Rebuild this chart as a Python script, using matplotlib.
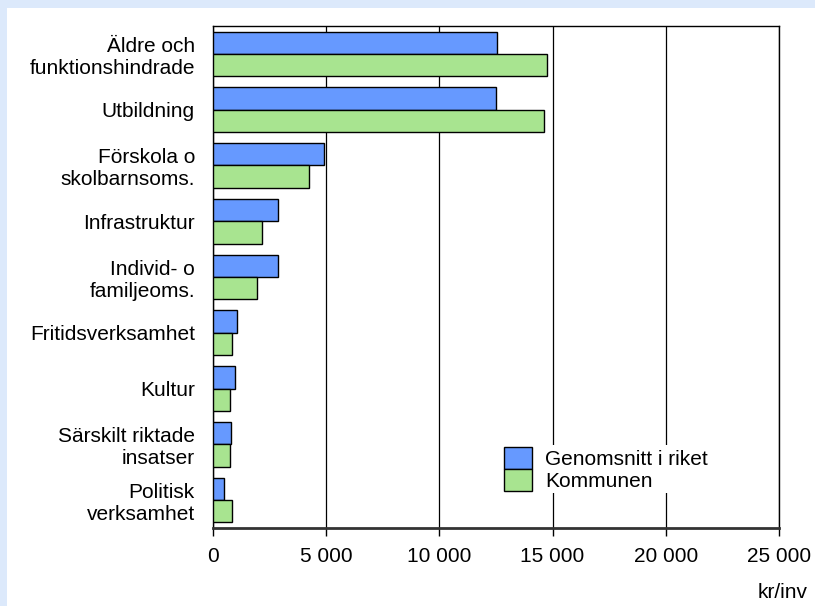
import numpy as np
import matplotlib.pyplot as plt
from matplotlib.patches import Rectangle
from matplotlib.ticker import FuncFormatter

plt.rcParams['font.family'] = ['Liberation Sans', 'DejaVu Sans']

# data (kr/inv)
categories = ['Äldre och\nfunktionshindrade', 'Utbildning', 'Förskola o\nskolbarnsoms.',
              'Infrastruktur', 'Individ- o\nfamiljeoms.', 'Fritidsverksamhet',
              'Kultur', 'Särskilt riktade\ninsatser', 'Politisk\nverksamhet']
riket = [12530, 12480, 4900, 2880, 2850, 1070, 990, 810, 470]
kommunen = [14760, 14640, 4250, 2150, 1960, 820, 770, 770, 840]
series_names = ['Genomsnitt i riket', 'Kommunen']

blue = '#6699ff'
green = '#a8e490'
fs = 15

fig = plt.figure(figsize=(8.15, 6.06), dpi=100)
fig.patch.set_facecolor('#dce9fb')
fig.patches.append(Rectangle((7 / 815, 0), 1, 1 - 8 / 606, transform=fig.transFigure,
                             facecolor='white', edgecolor='none', zorder=-10))

ax = fig.add_axes([213 / 815, 1 - 528 / 606, 566 / 815, 502 / 606])

y = np.arange(len(categories))
h = 0.4
ax.barh(y - h / 2, riket, height=h, color=blue, edgecolor='black', linewidth=1,
        label=series_names[0], zorder=3)
ax.barh(y + h / 2, kommunen, height=h, color=green, edgecolor='black', linewidth=1,
        label=series_names[1], zorder=3)

ax.set_xlim(0, 25000)
ax.set_ylim(len(categories) - 0.5, -0.5)
ax.set_xticks(np.arange(0, 25001, 5000))
ax.xaxis.set_major_formatter(FuncFormatter(lambda v, p: f'{int(v):,}'.replace(',', ' ')))
ax.set_yticks(y)
ax.set_yticklabels(categories, fontsize=fs, linespacing=1.2)
ax.tick_params(axis='y', length=0, pad=13)
ax.tick_params(axis='x', length=6, width=1, pad=8, labelsize=fs, direction='out')
ax.grid(axis='x', color='black', linewidth=0.9, zorder=1)
ax.set_axisbelow(True)

for s in ['top', 'right', 'left']:
    ax.spines[s].set_color('black')
    ax.spines[s].set_linewidth(1)
ax.spines['bottom'].set_color('#333333')
ax.spines['bottom'].set_linewidth(2)

# legend with white box that hides the gridlines behind it
leg = ax.legend(loc='upper left', bbox_to_anchor=((504 - 213 - 2) / 566, (528 - 447 + 2) / 502),
                frameon=True, fancybox=False, facecolor='white', edgecolor='none',
                framealpha=1, fontsize=fs, handleheight=1.25, handlelength=1.35,
                handletextpad=0.63, labelspacing=0, borderpad=0.1, borderaxespad=0)
for p in leg.get_patches():
    p.set_edgecolor('black')
    p.set_linewidth(1)

fig.text(808 / 815, 1 - 593 / 606, 'kr/inv', ha='right', va='center', fontsize=fs)

fig.savefig('out.png', dpi=100, facecolor=fig.get_facecolor())
